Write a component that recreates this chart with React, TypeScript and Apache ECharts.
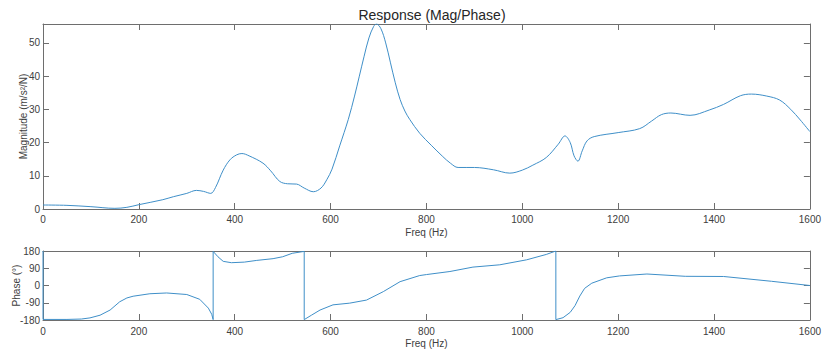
import React, { useEffect, useRef } from "react";
import * as echarts from "echarts";

const magFreq = [0, 50, 100, 150, 175, 200, 250, 272, 300, 320, 335, 350, 360, 376, 390, 404, 415, 430, 459, 475, 494, 510, 529, 545, 564, 580, 592, 603, 619, 637, 650, 660, 670, 680, 690, 696, 705, 715, 725, 735, 745, 755, 765, 786, 810, 834, 850, 866, 900, 940, 974, 1000, 1022, 1050, 1075, 1089, 1100, 1108, 1116, 1125, 1135, 1150, 1200, 1245, 1270, 1290, 1310, 1350, 1390, 1420, 1455, 1478, 1510, 1537, 1560, 1580, 1600];
const magVals = [1.2, 1.1, 0.7, 0.2, 0.5, 1.3, 2.8, 3.7, 4.7, 5.6, 5.3, 4.7, 6.5, 11.7, 14.8, 16.3, 16.7, 16.0, 13.8, 11.5, 8.3, 7.6, 7.5, 6.3, 5.2, 6.3, 8.8, 12.0, 19.0, 27, 34, 40, 46, 51.5, 55, 55.7, 54.3, 50, 44, 38, 33, 29.5, 27, 22.8, 19.2, 15.8, 13.8, 12.5, 12.5, 11.8, 10.8, 11.7, 13.2, 15.5, 19.5, 22, 20, 16, 14.4, 17.5, 20.5, 21.8, 23, 24.2, 26.5, 28.4, 28.9, 28.2, 29.8, 31.5, 34.1, 34.6, 34, 32.8, 30, 26.8, 23.3];

const phaseFreq = [0, 0, 50, 80, 98, 119, 140, 160, 175, 188, 223, 258, 300, 327, 345, 352, 355, 355, 365, 376, 393, 420, 446, 480, 500, 520, 545, 545, 560, 578, 605, 640, 675, 710, 745, 786, 800, 849, 897, 953, 1009, 1050, 1070, 1070, 1085, 1100, 1110, 1120, 1130, 1145, 1176, 1203, 1260, 1340, 1420, 1520, 1600];
const phaseVals = [180, -177, -177, -175, -169, -155, -128, -85, -65, -56, -43, -39, -47, -72, -118, -150, -178, 178, 150, 126, 119, 122, 131, 140, 150, 168, 178, -178, -155, -128, -101, -92, -76, -32, 20, 52, 57, 73, 96, 108, 134, 162, 180, -178, -168, -140, -105, -55, -15, 12, 40, 50, 60, 48, 47, 22, 0];

const titleText = "Response (Mag/Phase)";
const xName = "Freq (Hz)";
const magName = "Magnitude (m/s\u00B2/N)";
const phaseName = "Phase (\u00B0)";

const axisColor = "#6e6e6e";
const textColor = "#404040";
const lineColor = "#3f8fc8";
const font = "'Liberation Sans', Arial, Helvetica, sans-serif";

export default function App() {
  const ref = useRef<HTMLDivElement>(null);
  useEffect(() => {
    if (!ref.current) return;
    const chart = echarts.init(ref.current, null, { renderer: "svg" });
    const tick = { inside: true, length: 6, lineStyle: { color: axisColor, width: 1 } };
    const line = { onZero: false, lineStyle: { color: axisColor, width: 1 } };
    const lbl = { color: textColor, fontSize: 10, fontFamily: font, formatter: (v: number) => String(v) };
    const xBase = (grid: number, pos: string, main: boolean) => ({
      gridIndex: grid,
      type: "value",
      position: pos,
      min: 0,
      max: 1600,
      interval: 200,
      axisLine: line,
      axisTick: tick,
      splitLine: { show: false },
      axisLabel: main ? { ...lbl, margin: grid === 0 ? 5 : 6 } : { show: false },
      name: main ? xName : "",
      nameLocation: "middle",
      nameGap: 18,
      nameMoveOverlap: false,
      nameTextStyle: { color: textColor, fontSize: 10, fontFamily: font },
    });
    const yBase = (grid: number, pos: string, main: boolean, min: number, max: number, interval: number, name: string, gap: number) => ({
      gridIndex: grid,
      type: "value",
      position: pos,
      min,
      max,
      interval,
      axisLine: line,
      axisTick: tick,
      splitLine: { show: false },
      axisLabel: main ? { ...lbl, margin: 3, showMaxLabel: grid === 0 ? false : true } : { show: false },
      name: main ? name : "",
      nameLocation: "middle",
      nameGap: gap,
      nameMoveOverlap: false,
      nameTextStyle: { color: textColor, fontSize: 10, fontFamily: font },
    });
    chart.setOption({
      animation: false,
      textStyle: { fontFamily: font },
      title: {
        text: titleText,
        left: 427,
        textAlign: "center",
        top: 3,
        textStyle: { color: "#262626", fontSize: 14, fontWeight: "normal", fontFamily: font },
      },
      grid: [
        { left: 43, right: 13, top: 24, height: 185 },
        { left: 43, right: 13, top: 251, height: 69 },
      ],
      xAxis: [xBase(0, "bottom", true), xBase(0, "top", false), xBase(1, "bottom", true), xBase(1, "top", false)],
      yAxis: [
        yBase(0, "left", true, 0, 55.7, 10, magName, 15),
        yBase(0, "right", false, 0, 55.7, 10, "", 0),
        yBase(1, "left", true, -180, 180, 90, phaseName, 22),
        yBase(1, "right", false, -180, 180, 90, "", 0),
      ],
      series: [
        {
          type: "line",
          xAxisIndex: 0,
          yAxisIndex: 0,
          data: magFreq.map((f, i) => [f, magVals[i]]),
          showSymbol: false,
          smooth: 0.35,
          lineStyle: { color: lineColor, width: 1 },
          itemStyle: { color: lineColor },
        },
        {
          type: "line",
          xAxisIndex: 2,
          yAxisIndex: 2,
          data: phaseFreq.map((f, i) => [f, phaseVals[i]]),
          showSymbol: false,
          smooth: false,
          lineStyle: { color: lineColor, width: 1 },
          itemStyle: { color: lineColor },
        },
      ],
    });
    return () => chart.dispose();
  }, []);
  return <div ref={ref} style={{ position: "fixed", left: 0, top: 0, width: 824, height: 356, background: "#fff" }} />;
}
